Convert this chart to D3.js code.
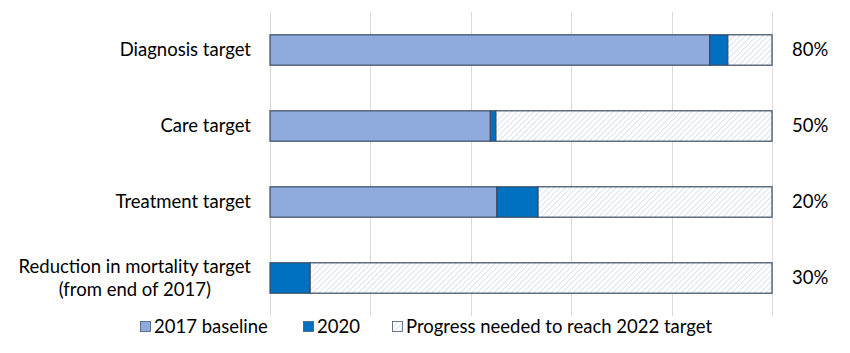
<!DOCTYPE html>
<html>
<head>
<meta charset="utf-8">
<script src="https://cdn.jsdelivr.net/npm/d3@7"></script>
<style>
  body { margin: 0; background: #fff; }
  text { font-family: Lato, "Open Sans", sans-serif; fill: #000; }
</style>
</head>
<body>
<script>
// data
var categories = ["Diagnosis target", "Care target", "Treatment target", "Reduction in mortality target\n(from end of 2017)"];
var targets = ["80%", "50%", "20%", "30%"];
var baseline2017 = [87.6, 43.9, 45.2, 0];
var progress2020 = [3.6, 1.1, 8.2, 8.0];
var remaining = [8.8, 55.0, 46.6, 92.0];
var seriesNames = ["2017 baseline", "2020", "Progress needed to reach 2022 target"];
var xTicks = [0, 20, 40, 60, 80, 100];

var w = 850, h = 353;
var padLeft = 270, padRight = 772, padTop = 12, padBottom = 316;
var fontSize = "18.5px";

var rows = categories.map(function(c, i) {
  return { cat: c, a: baseline2017[i], b: progress2020[i], c: remaining[i] };
});
var stack = d3.stack().keys(["a", "b", "c"]);
var layers = stack(rows);

var xScale = d3.scaleLinear().domain([0, 100]).range([padLeft, padRight]);
var yScale = d3.scaleBand().domain(categories).range([padTop, padBottom]).paddingInner(0.6).paddingOuter(0.3);

var svg = d3.select("body").append("svg")
  .attr("width", w)
  .attr("height", h);

// hatch pattern
var defs = svg.append("defs");
var pat = defs.append("pattern")
  .attr("id", "hatch")
  .attr("patternUnits", "userSpaceOnUse")
  .attr("width", 4).attr("height", 4)
  .attr("patternTransform", "rotate(45)");
pat.append("rect").attr("width", 4).attr("height", 4).attr("fill", "#fff");
pat.append("line").attr("x1", 0).attr("y1", 0).attr("x2", 0).attr("y2", 4)
  .attr("stroke", "#c5d3e6").attr("stroke-width", 1.3);

var fills = ["#8faadc", "#0070c0", "url(#hatch)"];

// gridlines
svg.append("g")
  .selectAll("line")
  .data(xTicks)
  .enter()
  .append("line")
  .attr("x1", function(d) { return Math.round(xScale(d)) + 0.5; })
  .attr("x2", function(d) { return Math.round(xScale(d)) + 0.5; })
  .attr("y1", padTop)
  .attr("y2", padBottom)
  .attr("stroke", "#d9d9d9")
  .attr("stroke-width", 1);

// bars
svg.append("g")
  .selectAll("g")
  .data(layers)
  .enter()
  .append("g")
  .attr("fill", function(d, i) { return fills[i]; })
  .selectAll("rect")
  .data(function(d) { return d.filter(function(p) { return p[1] - p[0] > 0; }); })
  .enter()
  .append("rect")
  .attr("x", function(d) { return xScale(d[0]); })
  .attr("y", function(d) { return yScale(d.data.cat); })
  .attr("width", function(d) { return xScale(d[1]) - xScale(d[0]); })
  .attr("height", yScale.bandwidth())
  .attr("stroke", "#3b4a63")
  .attr("stroke-width", 1.2);

// category labels (multi-line ones centred on each other, block right-aligned)
var labels = svg.append("g")
  .selectAll("text")
  .data(categories)
  .enter()
  .append("text")
  .attr("font-size", fontSize)
  .attr("text-anchor", "middle");

labels.each(function(d) {
  var t = d3.select(this);
  var lines = d.split("\n");
  var cy = yScale(d) + yScale.bandwidth() / 2;
  lines.forEach(function(l, j) {
    t.append("tspan")
      .text(l)
      .attr("y", cy + (j - (lines.length - 1) / 2) * 23)
      .attr("dy", "0.35em");
  });
  var maxW = 0;
  t.selectAll("tspan").each(function() { maxW = Math.max(maxW, this.getComputedTextLength()); });
  t.selectAll("tspan").attr("x", 251 - maxW / 2);
});

// target labels
svg.append("g")
  .selectAll("text")
  .data(categories)
  .enter()
  .append("text")
  .attr("x", 792)
  .attr("y", function(d) { return yScale(d) + yScale.bandwidth() / 2; })
  .attr("dy", "0.35em")
  .attr("font-size", fontSize)
  .text(function(d, i) { return targets[i]; });

// legend
var legendX = [140, 303, 392];
var legend = svg.append("g")
  .selectAll("g")
  .data(seriesNames)
  .enter()
  .append("g")
  .attr("transform", function(d, i) { return "translate(" + legendX[i] + ",327)"; });
legend.append("rect")
  .attr("x", 0.5).attr("y", -5.5)
  .attr("width", 10).attr("height", 10)
  .attr("fill", function(d, i) { return fills[i]; })
  .attr("stroke", "#4a5870")
  .attr("stroke-width", 0.8);
legend.append("text")
  .attr("x", 14)
  .attr("y", 0)
  .attr("dy", "0.35em")
  .attr("font-size", fontSize)
  .text(function(d) { return d; });
</script>
</body>
</html>
